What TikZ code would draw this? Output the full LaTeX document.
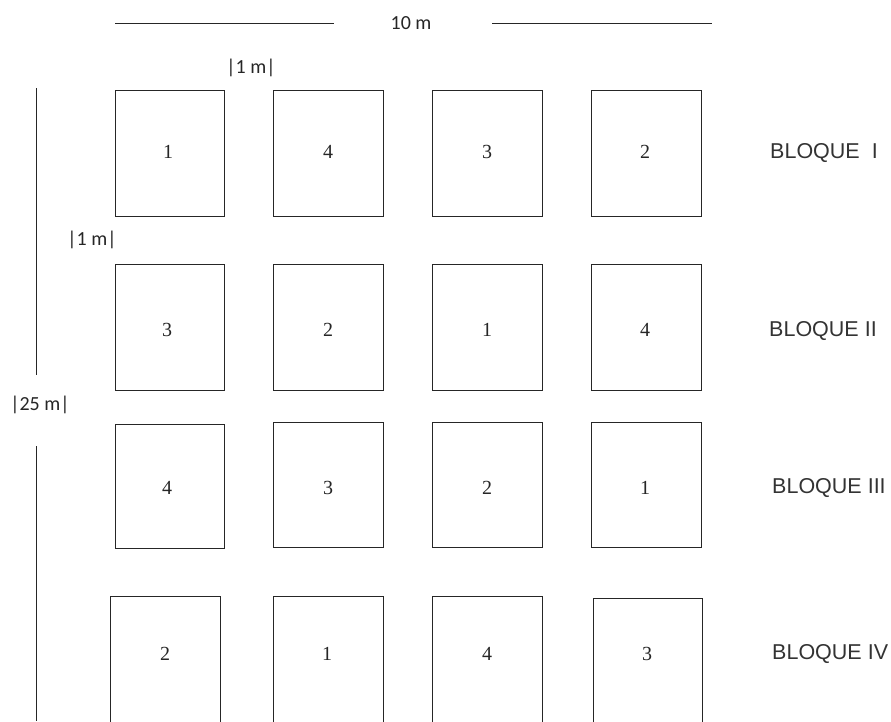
\documentclass[tikz,border=0pt]{standalone}
\usepackage{fontspec}
\setmainfont{Liberation Serif}
\newfontfamily\arialf{Liberation Sans}
\newfontfamily\calf{Carlito}
\begin{document}
\begin{tikzpicture}[x=1pt,y=-1pt,
  plotbox/.style={draw=black!85,line width=0.9pt},
  num/.style={inner sep=0pt,font=\fontsize{20}{22}\selectfont,text=black!85},
  blk/.style={anchor=west,inner sep=0pt,font=\arialf\fontsize{21.5}{24}\selectfont,text=black!80},
  dim/.style={inner sep=0pt,font=\calf\fontsize{20}{22}\selectfont,text=black!85},
  rule/.style={draw=black!85,line width=0.9pt}]
\useasboundingbox (0,0) rectangle (891,721);
\clip (0,0) rectangle (891,721);
% top dimension
\node[dim] (tenm) at (411,23) {10 m};
\coordinate (tl) at (115,23);
\coordinate (tr) at (712,23);
\draw[rule] (tl) -- (334,23);
\draw[rule] (492,23) -- (tr);
\node[dim] (onemtop) at (251,68) {|1 m|};
\node[dim] (onemleft) at (92,240) {|1 m|};
% left dimension
\node[dim] (tfm) at (40,405) {|25 m|};
\coordinate (lt) at (36,88);
\coordinate (lb) at (36,721);
\draw[rule] (lt) -- (36,375);
\draw[rule] (36,446) -- (lb);
% row 1
\draw[plotbox] (115,90) rectangle (224,216);
\node[num] (a1) at (168,152) {1};
\draw[plotbox] (273,90) rectangle (383,216);
\node[num] (a2) at (328,152) {4};
\draw[plotbox] (432,90) rectangle (542,216);
\node[num] (a3) at (487,152) {3};
\draw[plotbox] (591,90) rectangle (701,216);
\node[num] (a4) at (645,152) {2};
\node[blk] (b1) at (770,153) {BLOQUE\ \ I};
% row 2
\draw[plotbox] (115,264) rectangle (224,390);
\node[num] (c1) at (167,330) {3};
\draw[plotbox] (273,264) rectangle (383,390);
\node[num] (c2) at (328,330) {2};
\draw[plotbox] (432,264) rectangle (542,390);
\node[num] (c3) at (487,330) {1};
\draw[plotbox] (591,264) rectangle (701,390);
\node[num] (c4) at (645,330) {4};
\node[blk] (b2) at (769,331) {BLOQUE II};
% row 3
\draw[plotbox] (115,424) rectangle (224,548);
\node[num] (d1) at (167,488) {4};
\draw[plotbox] (273,422) rectangle (383,547);
\node[num] (d2) at (328,488) {3};
\draw[plotbox] (432,422) rectangle (542,547);
\node[num] (d3) at (487,488) {2};
\draw[plotbox] (591,422) rectangle (701,547);
\node[num] (d4) at (645,488) {1};
\node[blk] (b3) at (772,488) {BLOQUE III};
% row 4
\draw[plotbox] (110,596) rectangle (220,730);
\node[num] (e1) at (165,654) {2};
\draw[plotbox] (273,596) rectangle (383,730);
\node[num] (e2) at (327,654) {1};
\draw[plotbox] (432,596) rectangle (542,730);
\node[num] (e3) at (487,654) {4};
\draw[plotbox] (593,598) rectangle (702,730);
\node[num] (e4) at (647,654) {3};
\node[blk] (b4) at (772,654) {BLOQUE IV};
\end{tikzpicture}
\end{document}
